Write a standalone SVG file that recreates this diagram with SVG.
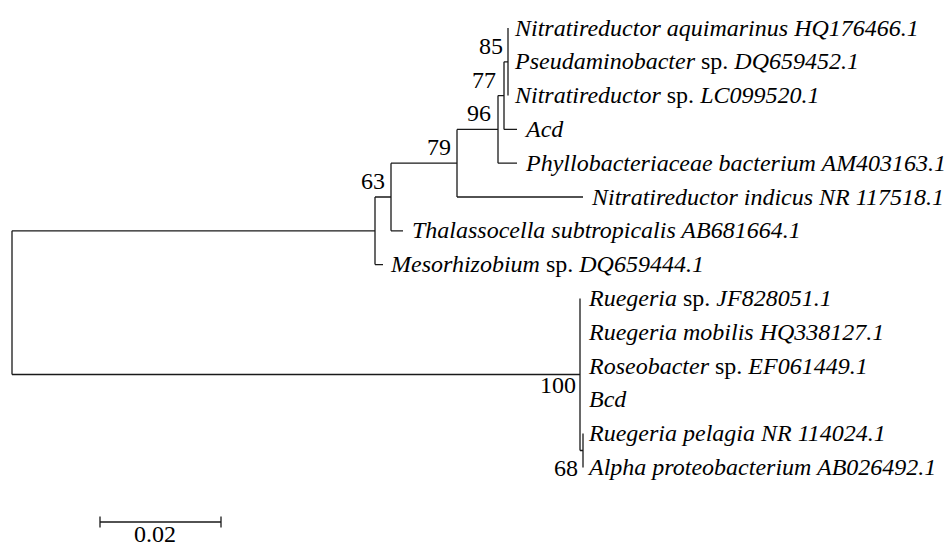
<svg xmlns="http://www.w3.org/2000/svg" width="946" height="545" viewBox="0 0 946 545">
<style>
.br{fill:none;stroke:#1a1a1a;stroke-width:1.3}
.tx{font-family:"Liberation Serif","Times New Roman",serif;font-size:24px;fill:#000}
.it{font-style:italic}
.bs{font-family:"Liberation Serif","Times New Roman",serif;font-size:24px;fill:#000;text-anchor:end}
</style>
<rect width="946" height="545" fill="#fff"/>
<g id="connectors">
<path class="br" d="M12,230.8V374.5M12,230.8H375M12,374.5H580"/>
<path class="br" d="M375,197V264.6M375,197H391M375,264.6H383"/>
<path class="br" d="M391,163.2V230.8M391,163.2H457M391,230.8H403"/>
<path class="br" d="M457,129.4V197M457,129.4H498M457,197H583"/>
<path class="br" d="M498,95.6V163.2M498,95.6H504M498,163.2H517"/>
<path class="br" d="M504,61.8V129.4M504,61.8H508M504,129.4H517"/>
<path class="br" d="M508,28V95.6"/>
<path class="br" d="M580,298.4V450.5M580,450.5H583"/>
<path class="br" d="M583,433.6V467.4"/>
<path class="br" d="M100,522H221M100,516.5V527.5M221,516.5V527.5"/>
</g>
<g id="taxa">
<g id="t1"><text class="tx it" x="515" y="35.5">Nitratireductor aquimarinus HQ176466.1</text></g>
<g id="t2"><text class="tx" x="515" y="69.3"><tspan class="it">Pseudaminobacter</tspan> sp. <tspan class="it">DQ659452.1</tspan></text></g>
<g id="t3"><text class="tx" x="515" y="103.1"><tspan class="it">Nitratireductor</tspan> sp. <tspan class="it">LC099520.1</tspan></text></g>
<g id="t4"><text class="tx it" x="526" y="136.9">Acd</text></g>
<g id="t5"><text class="tx it" x="526" y="170.7">Phyllobacteriaceae bacterium AM403163.1</text></g>
<g id="t6"><text class="tx it" x="592" y="204.5">Nitratireductor indicus NR 117518.1</text></g>
<g id="t7"><text class="tx it" x="412" y="238.3">Thalassocella subtropicalis AB681664.1</text></g>
<g id="t8"><text class="tx" x="391" y="272.1"><tspan class="it">Mesorhizobium</tspan> sp. <tspan class="it">DQ659444.1</tspan></text></g>
<g id="t9"><text class="tx" x="589" y="305.9"><tspan class="it">Ruegeria</tspan> sp. <tspan class="it">JF828051.1</tspan></text></g>
<g id="t10"><text class="tx it" x="589" y="339.7">Ruegeria mobilis HQ338127.1</text></g>
<g id="t11"><text class="tx" x="589" y="373.5"><tspan class="it">Roseobacter</tspan> sp. <tspan class="it">EF061449.1</tspan></text></g>
<g id="t12"><text class="tx it" x="589" y="407.3">Bcd</text></g>
<g id="t13"><text class="tx it" x="589" y="441.1">Ruegeria pelagia NR 114024.1</text></g>
<g id="t14"><text class="tx it" x="589" y="474.9">Alpha proteobacterium AB026492.1</text></g>
</g>
<g id="nodes">
<g id="n85"><text class="bs" x="503" y="54">85</text></g>
<g id="n77"><text class="bs" x="496" y="88">77</text></g>
<g id="n96"><text class="bs" x="491" y="121">96</text></g>
<g id="n79"><text class="bs" x="451" y="155">79</text></g>
<g id="n63"><text class="bs" x="385" y="189">63</text></g>
<g id="n100"><text class="bs" x="576" y="393">100</text></g>
<g id="n68"><text class="bs" x="578" y="476">68</text></g>
</g>
<g id="scale"><text class="tx" x="155" y="542" text-anchor="middle">0.02</text></g>
</svg>
